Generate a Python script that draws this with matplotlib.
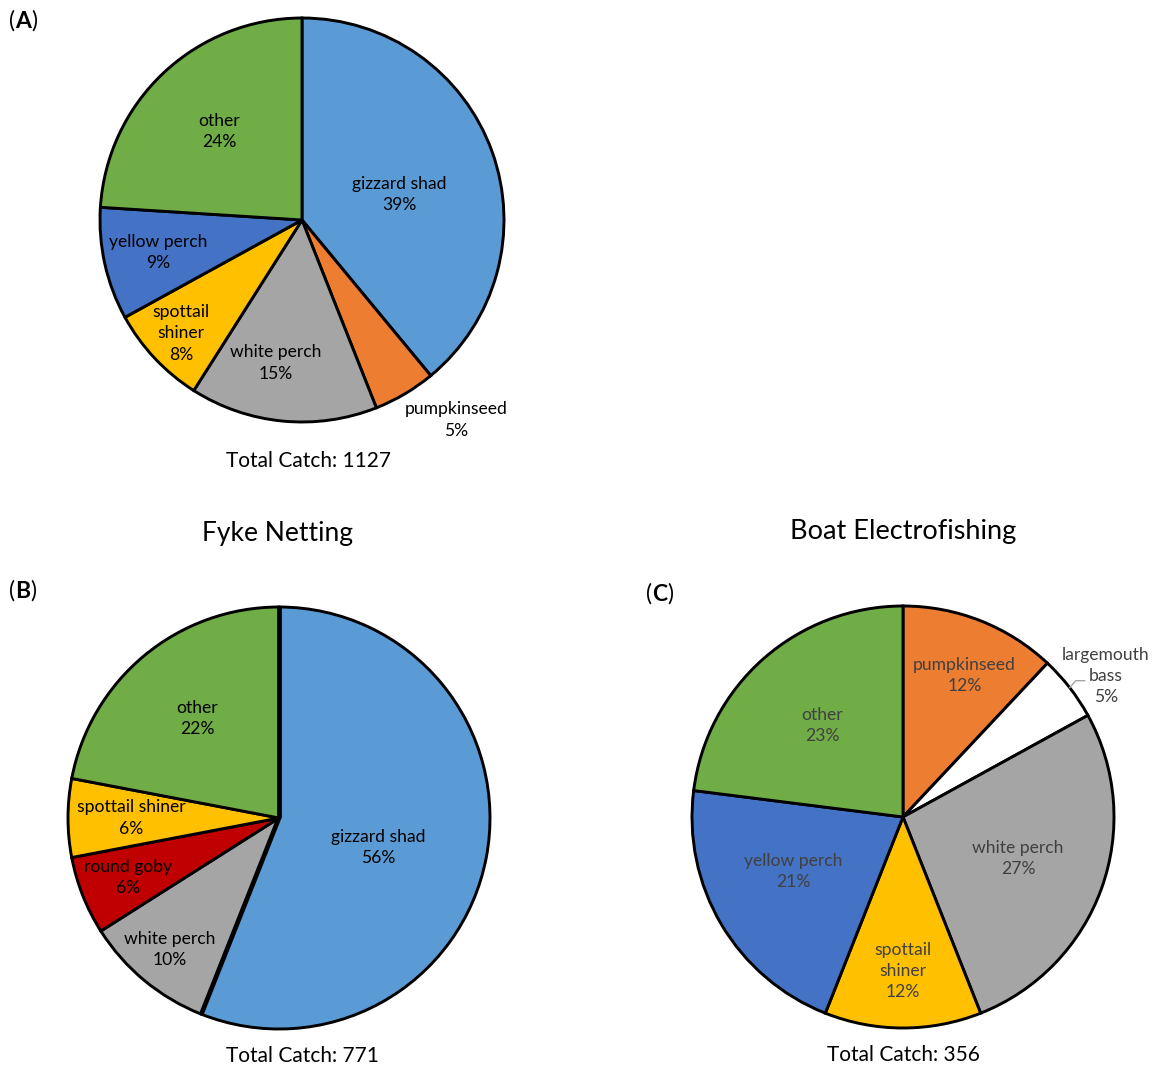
import numpy as np
import matplotlib
matplotlib.use("Agg")
import matplotlib.pyplot as plt

plt.rcParams['font.family'] = ['Lato', 'DejaVu Sans']

# data (percent of total catch)
labels_a = ["gizzard shad", "pumpkinseed", "white perch", "spottail\nshiner", "yellow perch", "other"]
pct_a = [39, 5, 15, 8, 9, 24]
total_a = 1127

labels_b = ["gizzard shad", "white perch", "round goby", "spottail shiner", "other"]
pct_b = [56, 10, 6, 6, 22]
total_b = 771

labels_c = ["pumpkinseed", "largemouth\nbass", "white perch", "spottail\nshiner", "yellow perch", "other"]
pct_c = [12, 5, 27, 12, 21, 23]
total_c = 356

colors = {
    "gizzard shad": "#5B9BD5", "pumpkinseed": "#ED7D31", "white perch": "#A5A5A5",
    "spottail\nshiner": "#FFC000", "spottail shiner": "#FFC000", "yellow perch": "#4472C4",
    "other": "#70AD47", "round goby": "#C00000", "largemouth\nbass": "#FFFFFF",
}

# label placement: distance (fraction of radius) and angle shift (deg) per wedge
dist_a = [0.50, 1.25, 0.72, 0.82, 0.73, 0.60]
shift_a = [-5, 7, -5, 0, 0, 0]
dist_b = [0.49, 0.81, 0.77, 0.70, 0.61]
shift_b = [-6, 0, 0, 0, 0]
dist_c = [0.73, 1.17, 0.58, 0.73, 0.58, 0.58]
shift_c = [-2, -3, 0, 0, -4, 0]

W, H = 1157, 1071
fig = plt.figure(figsize=(W / 100, H / 100), dpi=100)
ax = fig.add_axes([0, 0, 1, 1])
ax.set_xlim(0, W)
ax.set_ylim(0, H)
ax.axis("off")


def py(y):
    # pixel row -> data y
    return H - y


def draw_pie(vals, labs, dists, shifts, cx, cy, r, txtcol):
    cols = [colors[l] for l in labs]
    wedges, _ = ax.pie(vals, colors=cols, startangle=90, counterclock=False,
                       center=(cx, py(cy)), radius=r, frame=True,
                       wedgeprops=dict(edgecolor="black", linewidth=2.1))
    for w, lab, v, d, s in zip(wedges, labs, vals, dists, shifts):
        ang = np.deg2rad((w.theta1 + w.theta2) / 2 + s)
        x = cx + d * r * np.cos(ang)
        y = py(cy) + d * r * np.sin(ang)
        ax.text(x, y, f"{lab}\n{v}%", ha="center", va="center", fontsize=12.6,
                color=txtcol, linespacing=1.4)
    return wedges


def panel_tag(x, y, letter):
    t = ax.text(x, py(y), "(", fontsize=16.5, ha="left", va="center")
    t2 = ax.annotate(letter, xy=(1, 0), xycoords=t, fontsize=16.5, fontweight="bold",
                     ha="left", va="bottom")
    ax.annotate(")", xy=(1, 0), xycoords=t2, fontsize=16.5, ha="left", va="bottom")


# (A)
draw_pie(pct_a, labels_a, dist_a, shift_a, 302, 220, 202, "black")
ax.text(308, py(461), f"Total Catch: {total_a}", ha="center", va="center", fontsize=15)
panel_tag(9, 21, "A")

# (B) Fyke Netting
wb = draw_pie(pct_b, labels_b, dist_b, shift_b, 279, 818, 211, "black")
# thicker radial edges around gizzard shad
for a in (wb[0].theta1, wb[0].theta2):
    ax.plot([279, 279 + 211 * np.cos(np.deg2rad(a))],
            [py(818), py(818) + 211 * np.sin(np.deg2rad(a))], color="black", lw=3.4,
            solid_capstyle="butt")
ax.text(278, py(534), "Fyke Netting", ha="center", va="center", fontsize=19)
ax.text(302, py(1056), f"Total Catch: {total_b}", ha="center", va="center", fontsize=15)
panel_tag(9, 591, "B")

# (C) Boat Electrofishing
wc = draw_pie(pct_c, labels_c, dist_c, shift_c, 903, 817, 211, "#404040")
ax.text(903, py(532), "Boat Electrofishing", ha="center", va="center", fontsize=19.5)
ax.text(903, py(1055), f"Total Catch: {total_c}", ha="center", va="center", fontsize=15)
panel_tag(646, 594, "C")

# leader line for largemouth bass
w = wc[1]
a = np.deg2rad((w.theta1 + w.theta2) / 2)
x0 = 903 + 211 * np.cos(a)
y0 = py(817) + 211 * np.sin(a)
ax.plot([x0, x0 + 6, x0 + 15], [y0, y0 + 7, y0 + 7], color="#A5A5A5", lw=1)

ax.set_xlim(0, W)
ax.set_ylim(0, H)
ax.set_aspect("equal")

fig.savefig("out.png", dpi=100, facecolor="white")
